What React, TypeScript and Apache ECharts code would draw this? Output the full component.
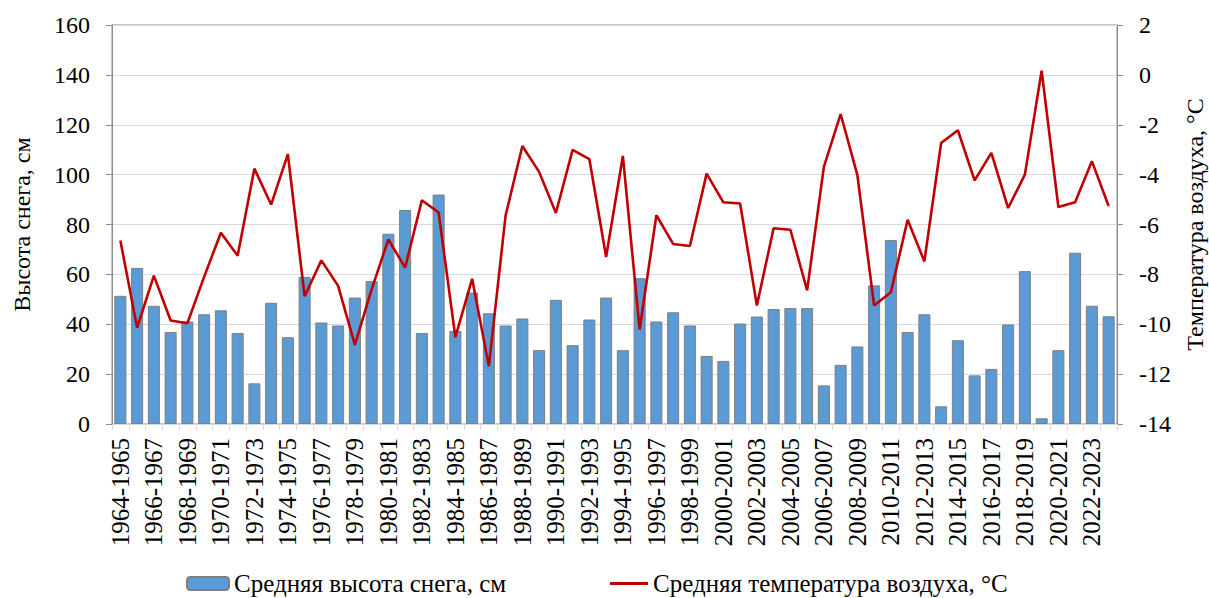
import React, { useEffect, useRef } from "react";
import * as echarts from "echarts";

const seasons: string[] = [];
for (let y = 1964; y <= 2023; y++) seasons.push(`${y}-${y + 1}`);

const snowDepth = [
  51.4, 62.6, 47.4, 36.9, 41.1, 44.0, 45.6, 36.5, 16.3, 48.6,
  34.8, 59.0, 40.7, 39.5, 50.7, 57.3, 76.3, 85.8, 36.5, 92.0,
  37.3, 52.7, 44.4, 39.5, 42.3, 29.6, 49.8, 31.6, 41.9, 50.7,
  29.6, 58.5, 41.1, 44.8, 39.5, 27.3, 25.3, 40.3, 43.1, 46.1,
  46.5, 46.5, 15.5, 23.7, 31.1, 55.6, 73.8, 36.9, 44.0, 7.1,
  33.6, 19.5, 22.1, 39.9, 61.3, 2.3, 29.6, 68.7, 47.4, 43.2,
];

const airTemp = [
  -6.64, -10.14, -8.05, -9.85, -9.96, -8.1, -6.33, -7.25, -3.76, -5.2,
  -3.18, -8.88, -7.44, -8.46, -10.83, -8.6, -6.6, -7.73, -5.03, -5.52,
  -10.52, -8.18, -11.68, -5.63, -2.85, -3.89, -5.54, -3.01, -3.38, -7.3,
  -3.25, -10.21, -5.63, -6.78, -6.86, -3.96, -5.11, -5.16, -9.25, -6.15,
  -6.21, -8.64, -3.69, -1.57, -4.02, -9.25, -8.72, -5.81, -7.48, -2.73,
  -2.22, -4.23, -3.13, -5.34, -4.0, 0.17, -5.3, -5.11, -3.46, -5.26,
];

const snowName = "Средняя высота снега, см";
const tempName = "Средняя температура воздуха, °C";
const font = "'Times New Roman', 'Liberation Serif', 'DejaVu Serif', serif";

export default function App() {
  const ref = useRef<HTMLDivElement>(null);
  useEffect(() => {
    if (!ref.current) return;
    const chart = echarts.init(ref.current, null, { renderer: "svg" });
    chart.setOption({
      animation: false,
      backgroundColor: "#ffffff",
      textStyle: { fontFamily: font, color: "#000" },
      grid: {
        left: 112,
        right: 92,
        top: 25,
        bottom: 174,
        outerBoundsMode: "none",
        containLabel: false,
        show: true,
        borderColor: "#8c8c8c",
        borderWidth: 1,
        backgroundColor: "transparent",
      },
      legend: [
        {
          data: [snowName],
          left: 186,
          top: 571,
          padding: 0,
          itemWidth: 42,
          itemHeight: 13,
          textStyle: { fontFamily: font, fontSize: 25, color: "#000" },
        },
        {
          data: [{ name: tempName, icon: "rect" }],
          left: 610,
          top: 571,
          padding: 0,
          itemWidth: 38,
          itemHeight: 3,
          textStyle: { fontFamily: font, fontSize: 25, color: "#000" },
        },
      ],
      xAxis: {
        type: "category",
        data: seasons,
        axisLine: { lineStyle: { color: "#d9d9d9", width: 1 } },
        axisTick: {
          show: true,
          interval: 0,
          alignWithLabel: false,
          length: 6,
          lineStyle: { color: "#d9d9d9" },
        },
        axisLabel: {
          interval: 1,
          rotate: 90,
          margin: 14,
          fontFamily: font,
          fontSize: 25,
          color: "#000",
        },
      },
      yAxis: [
        {
          type: "value",
          min: 0,
          max: 160,
          interval: 20,
          name: "Высота снега, см",
          nameLocation: "middle",
          nameRotate: 90,
          nameGap: 78,
          nameTextStyle: { fontFamily: font, fontSize: 24, color: "#000" },
          axisLine: { show: true, lineStyle: { color: "#8c8c8c" } },
          axisTick: { show: true, length: 6, lineStyle: { color: "#8c8c8c" } },
          axisLabel: { margin: 22, fontFamily: font, fontSize: 24, color: "#000" },
          splitLine: { show: true, lineStyle: { color: "#d9d9d9", width: 1 } },
        },
        {
          type: "value",
          min: -14,
          max: 2,
          interval: 2,
          position: "right",
          name: "Температура воздуха, °C",
          nameLocation: "middle",
          nameRotate: 90,
          nameGap: 66,
          nameTextStyle: { fontFamily: font, fontSize: 24, color: "#000" },
          axisLine: { show: true, lineStyle: { color: "#8c8c8c" } },
          axisTick: { show: true, length: 6, lineStyle: { color: "#8c8c8c" } },
          axisLabel: { margin: 22, fontFamily: font, fontSize: 24, color: "#000" },
          splitLine: { show: false },
        },
      ],
      series: [
        {
          name: snowName,
          type: "bar",
          data: snowDepth,
          yAxisIndex: 0,
          barCategoryGap: "28%",
          itemStyle: { color: "#5b9bd5", borderColor: "#7f7f7f", borderWidth: 1 },
        },
        {
          name: tempName,
          type: "line",
          data: airTemp,
          yAxisIndex: 1,
          symbol: "none",
          lineStyle: { color: "#c00000", width: 2.6 },
          itemStyle: { color: "#c00000" },
        },
      ],
    });
    return () => chart.dispose();
  }, []);
  return (
    <div
      ref={ref}
      style={{ position: "absolute", left: 0, top: 0, width: 1209, height: 598 }}
    />
  );
}
